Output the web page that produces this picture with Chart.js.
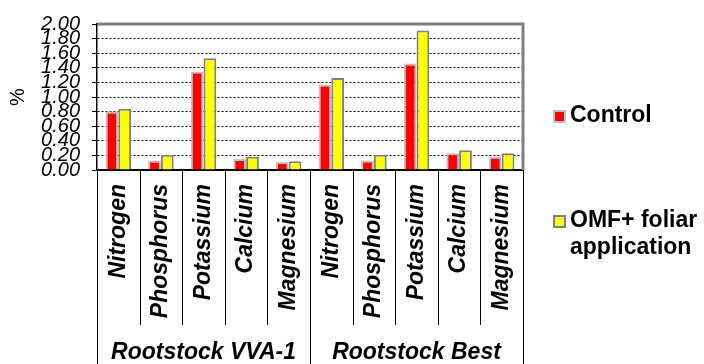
<!DOCTYPE html>
<html>
<head>
<meta charset="utf-8">
<script src="https://cdn.jsdelivr.net/npm/chart.js@4/dist/chart.umd.min.js"></script>
<style>
  html, body { margin: 0; padding: 0; background: #fff; }
  #wrap { width: 704px; height: 364px; position: relative; }
</style>
</head>
<body>
<div id="wrap"><canvas id="c" width="704" height="364"></canvas></div>
<script>
// Nutrient content (%) of leaves, two rootstocks, control vs OMF + foliar application
const nutrients = ['Nitrogen', 'Phosphorus', 'Potassium', 'Calcium', 'Magnesium'];
const rootstocks = ['Rootstock VVA-1', 'Rootstock Best'];
const categories = [...nutrients, ...nutrients];
const controlValues = [0.80, 0.13, 1.35, 0.15, 0.11, 1.17, 0.13, 1.46, 0.23, 0.18];
const omfValues     = [0.84, 0.21, 1.53, 0.18, 0.12, 1.26, 0.21, 1.91, 0.27, 0.23];
const seriesNames = ['Control', 'OMF+ foliar application'];
const yTicks = [0, 0.2, 0.4, 0.6, 0.8, 1.0, 1.2, 1.4, 1.6, 1.8, 2.0];

const FONT = '"Liberation Sans", Arial, sans-serif';

// Frame, category separators, rootstock labels and side legend
const decorations = {
  id: 'decorations',
  afterDraw(chart) {
    const ctx = chart.ctx;
    const area = chart.chartArea;
    const x = chart.scales.x;
    const H = chart.height;
    const half = (x.getPixelForValue(1) - x.getPixelForValue(0)) / 2;

    ctx.save();
    // grey frame on top and right of the plot
    ctx.strokeStyle = '#808080';
    ctx.lineWidth = 3;
    ctx.beginPath();
    ctx.moveTo(area.left, area.top);
    ctx.lineTo(area.right, area.top);
    ctx.lineTo(area.right, area.bottom);
    ctx.stroke();

    // separators below the axis
    ctx.strokeStyle = '#000';
    ctx.lineWidth = 1;
    for (let i = 0; i <= categories.length; i++) {
      const px = Math.round(x.getPixelForValue(i) - half) + 0.5;
      const groupEdge = i % nutrients.length === 0;
      ctx.beginPath();
      ctx.moveTo(px, area.bottom);
      ctx.lineTo(px, groupEdge ? H : 325);
      ctx.stroke();
    }

    // rootstock labels
    ctx.fillStyle = '#000';
    ctx.font = 'italic bold 23px ' + FONT;
    ctx.textAlign = 'center';
    ctx.textBaseline = 'middle';
    rootstocks.forEach((name, g) => {
      const a = x.getPixelForValue(g * nutrients.length) - half;
      const b = x.getPixelForValue((g + 1) * nutrients.length - 1) + half;
      ctx.fillText(name, (a + b) / 2, 353);
    });

    // legend
    const ds = chart.data.datasets;
    const items = [
      { y: 116, lines: [seriesNames[0]], ds: ds[0] },
      { y: 221, lines: ['OMF+ foliar', 'application'], ds: ds[1] }
    ];
    ctx.font = 'bold 23px ' + FONT;
    ctx.textAlign = 'left';
    items.forEach(it => {
      ctx.fillStyle = it.ds.backgroundColor;
      ctx.fillRect(554, it.y - 5, 11, 11);
      ctx.strokeStyle = it.ds.borderColor;
      ctx.lineWidth = 2;
      ctx.strokeRect(554, it.y - 5, 11, 11);
      ctx.fillStyle = '#000';
      it.lines.forEach((t, k) => ctx.fillText(t, 570, it.y + k * 27));
    });
    ctx.restore();
  }
};

new Chart(document.getElementById('c'), {
  type: 'bar',
  data: {
    labels: categories,
    datasets: [
      {
        label: seriesNames[0],
        data: controlValues,
        backgroundColor: '#FF0000',
        borderColor: '#C0C0C0',
        borderWidth: 2,
        categoryPercentage: 0.6,
        barPercentage: 1.0
      },
      {
        label: seriesNames[1],
        data: omfValues,
        backgroundColor: '#FFFF00',
        borderColor: '#808080',
        borderWidth: 2,
        categoryPercentage: 0.6,
        barPercentage: 1.0
      }
    ]
  },
  options: {
    responsive: false,
    devicePixelRatio: 1,
    animation: false,
    layout: { padding: { top: 22, right: 181, left: 0, bottom: 0 } },
    plugins: {
      legend: { display: false },
      tooltip: { enabled: false }
    },
    scales: {
      x: {
        grid: { display: false, drawTicks: false },
        border: { color: '#000', width: 2 },
        ticks: {
          color: '#000',
          font: { family: FONT, size: 23, style: 'italic', weight: 'bold' },
          minRotation: 90,
          maxRotation: 90,
          autoSkip: false,
          padding: 14
        },
        afterFit(s) { s.height = 194; }
      },
      y: {
        min: 0,
        max: 2,
        afterBuildTicks(s) { s.ticks = yTicks.map(v => ({ value: v })); },
        grid: {
          color: '#000',
          lineWidth: 1,
          drawTicks: true,
          tickLength: 5,
          tickBorderDash: []
        },
        border: { color: '#000', width: 1.5, dash: [2, 2] },
        ticks: {
          color: '#000',
          autoSkip: false,
          padding: 12,
          font: { family: FONT, size: 20, style: 'italic' },
          callback: v => Number(v).toFixed(2)
        },
        title: {
          display: true,
          text: '%',
          color: '#000',
          font: { family: FONT, size: 20 },
          padding: { top: 6, bottom: 0 }
        },
        afterFit(s) { s.width = 97; }
      }
    }
  },
  plugins: [decorations]
});
</script>
</body>
</html>
